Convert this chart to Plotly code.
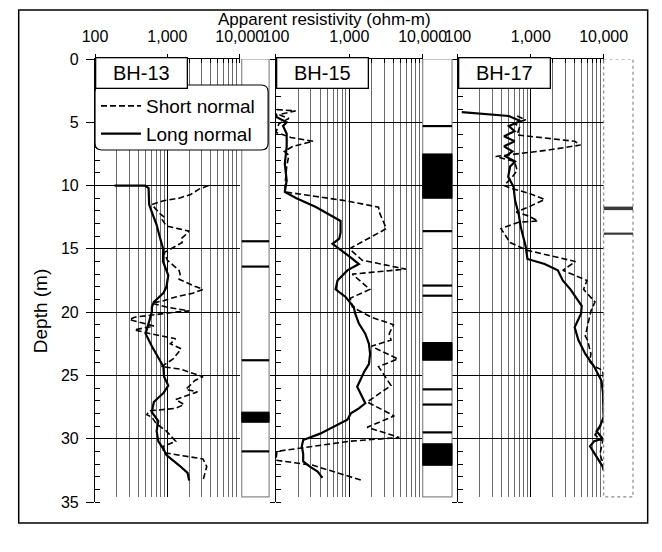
import plotly.graph_objects as go

# ---------------- data ----------------
bh13_long_depth = [10.0, 10.0, 10.0, 10.2, 11.5, 12.1, 13.1, 14.0, 15.0, 16.0, 17.1, 18.0, 18.5, 19.2, 19.6, 20.0,
                   20.8, 21.7, 22.7, 23.8, 24.3, 25.1, 25.8, 26.4, 27.1, 27.9, 28.6, 29.4, 30.2, 30.8, 31.3, 32.1,
                   32.7, 33.3]
bh13_long_res = [186, 300, 490, 550, 560, 610, 710, 780, 875, 870, 1030, 970, 880, 650, 610, 610,
                 560, 500, 610, 780, 880, 900, 1030, 880, 650, 610, 750, 710, 750, 880, 970, 1450,
                 1900, 2000]
bh13_short_depth = [10.0, 10.3, 10.7, 11.0, 11.2, 11.5, 12.2, 12.5, 12.7, 13.2, 13.4, 13.6, 14.0, 14.2, 14.5, 14.9,
                    15.3, 15.9, 16.7, 17.0, 17.4, 17.9, 18.2, 18.5, 18.8, 19.1, 19.3, 19.6, 19.9, 20.0, 20.4, 20.6,
                    20.9, 21.1, 21.4, 21.7, 22.1, 22.5, 22.9, 23.7, 24.3, 24.5, 25.1, 25.4, 26.1, 26.3, 26.9, 27.3,
                    27.6, 27.8, 28.1, 28.3, 28.8, 29.4, 30.2, 30.6, 31.1, 31.6, 32.2, 33.3]
bh13_short_res = [3700, 2700, 2100, 1450, 880, 610, 780, 910, 850, 970, 1400, 2000, 1700, 1550, 1600, 1200,
                  900, 1000, 1450, 1500, 1450, 2250, 3100, 2250, 1300, 880, 610, 970, 2000, 1300, 350, 300,
                  475, 650, 350, 580, 1300, 1100, 1550, 1200, 830, 1500, 3100, 2400, 1800, 2600, 1300, 1700,
                  1300, 560, 520, 610, 700, 970, 1300, 880, 880, 3100, 3500, 3100]

bh15_long_depth = [4.3, 4.6, 5.0, 5.3, 5.9, 6.9, 8.3, 9.6, 10.5, 11.0, 11.7, 12.3, 12.8, 13.7, 14.2, 14.6,
                   15.0, 15.6, 16.2, 16.7, 17.5, 18.2, 18.8, 19.6, 20.1, 20.9, 21.7, 22.2, 22.5, 23.3, 24.1, 24.7,
                   25.4, 25.9, 26.7, 27.2, 27.6, 28.0, 28.5, 29.0, 29.6, 30.1, 30.6, 31.2, 31.8, 32.2, 32.6, 33.1]
bh15_long_res = [100, 103, 140, 125, 140, 140, 132, 140, 132, 190, 350, 540, 760, 760, 730, 590,
                 740, 1000, 1350, 940, 690, 650, 890, 1150, 1200, 1350, 1650, 1800, 1850, 1920, 1850, 1600,
                 1400, 1280, 1500, 1650, 1350, 1050, 940, 650, 400, 235, 225, 235, 235, 290, 370, 430]
bh15_short_depth = [4.0, 4.1, 4.4, 4.7, 5.1, 5.4, 5.8, 6.2, 6.5, 6.9, 7.3, 7.6, 8.5, 9.5, 10.5, 10.8,
                    11.2, 11.7, 12.2, 13.4, 15.0, 15.9, 16.6, 17.0, 18.2, 18.9, 19.6, 20.4, 21.0, 21.7, 22.2, 22.7,
                    23.7, 24.3, 25.8, 27.1, 28.2, 29.1, 29.9, 30.2, 31.0, 31.7, 32.1, 33.3]
bh15_short_res = [103, 185, 110, 150, 110, 105, 100, 160, 320, 170, 130, 150, 140, 135, 132, 300,
                  890, 2500, 2600, 3200, 1000, 1500, 5900, 1100, 1900, 1030, 1100, 2000, 4000, 3500, 3700, 2000,
                  4600, 2500, 3700, 1750, 4100, 1750, 4800, 1000, 103, 100, 320, 1500]

bh17_long_depth = [4.2, 4.4, 4.5, 4.9, 5.3, 5.7, 6.1, 6.5, 6.9, 7.3, 7.7, 8.1, 8.5, 9.3, 10.1, 11.2,
                   12.2, 13.3, 14.8, 15.8, 16.2, 16.7, 17.5, 18.2, 18.8, 19.5, 20.1, 21.2, 22.2, 22.7, 23.3, 24.3,
                   25.4, 26.4, 27.5, 28.3, 29.0, 29.4, 30.0, 30.2, 30.6, 31.4, 32.2, 32.5]
bh17_long_res = [113, 300, 500, 720, 500, 600, 430, 600, 430, 560, 450, 610, 520, 490, 580, 610,
                 680, 730, 850, 900, 1550, 2350, 2750, 3500, 4100, 5000, 4900, 4000, 4500, 5000, 5600, 7400,
                 9300, 9800, 10000, 10000, 8900, 8000, 9700, 7400, 6500, 8000, 9700, 10000]
bh17_short_depth = [4.5, 4.8, 5.1, 5.4, 6.0, 6.5, 6.8, 7.2, 7.7, 8.1, 8.8, 9.3, 10.0, 10.2, 10.6, 11.1,
                    11.7, 12.1, 12.4, 12.8, 12.9, 13.4, 14.5, 15.1, 16.0, 16.7, 17.5, 18.2, 19.2, 19.9, 21.1, 21.9,
                    22.2, 23.3, 23.9, 24.3, 24.6, 25.4, 26.4, 27.5, 28.3, 28.9, 29.7, 30.2, 31.2, 32.1]
bh17_short_res = [650, 850, 600, 700, 650, 4000, 4800, 1700, 330, 600, 650, 560, 430, 520, 930, 1550,
                  930, 630, 930, 1260, 680, 390, 520, 870, 4100, 2750, 5900, 5300, 7600, 6700, 6000, 5600,
                  6000, 6700, 6400, 7600, 9700, 10000, 9800, 10000, 10000, 9300, 7600, 9700, 8900, 10000]

# lithology column marks (depth, m)
bh13_lines = [14.4, 16.4, 23.8, 31.0]
bh13_blocks = [(27.9, 28.7)]
bh15_lines = [5.3, 13.6, 17.9, 18.7, 26.1, 27.3, 29.5]
bh15_blocks = [(7.5, 11.0), (22.4, 23.8), (30.4, 32.1)]
bh17_lines = [11.8, 13.8]
bh17_blocks = []
column_bottom = 34.6
depth_max = 35

panel_names = ["BH-13", "BH-15", "BH-17"]
res_tick_vals = [100, 1000, 10000]
res_tick_text = ["100", "1,000", "10,000"]
depth_tick_vals = [0, 5, 10, 15, 20, 25, 30, 35]

# ---------------- layout geometry ----------------
W, H = 662, 552
ML, MR, MT, MB = 87, 25, 51, 58
PW = W - ML - MR
PH = H - MT - MB


def px(x):
    return (x - ML) / PW


def py(y):
    return (H - MB - y) / PH


def rounded_rect(x0, y0, x1, y1, r):
    # pixel coordinates -> paper-coordinate SVG path with rounded corners
    rx, ry = r / PW, r / PH
    a0, a1 = px(x0), px(x1)
    b0, b1 = py(y1), py(y0)  # bottom, top in paper
    return (f"M {a0+rx},{b1} L {a1-rx},{b1} Q {a1},{b1} {a1},{b1-ry} "
            f"L {a1},{b0+ry} Q {a1},{b0} {a1-rx},{b0} L {a0+rx},{b0} "
            f"Q {a0},{b0} {a0},{b0+ry} L {a0},{b1-ry} Q {a0},{b1} {a0+rx},{b1} Z")


panel_px = [(87, 235), (272, 422), (458, 607)]
panel_dom = [(px(a), px(b)) for a, b in panel_px]
col_dom = [(px(237), px(265)), (px(422), px(452)), (px(607), px(637))]

FONT = "Arial, 'Liberation Sans', sans-serif"

fig = go.Figure()

series = [
    (bh13_short_depth, bh13_short_res, bh13_long_depth, bh13_long_res),
    (bh15_short_depth, bh15_short_res, bh15_long_depth, bh15_long_res),
    (bh17_short_depth, bh17_short_res, bh17_long_depth, bh17_long_res),
]
for i, (sd, sr, ld, lr) in enumerate(series):
    xa = "x" if i == 0 else f"x{i+1}"
    ya = "y" if i == 0 else f"y{i+1}"
    fig.add_trace(go.Scatter(x=sr, y=sd, mode="lines", xaxis=xa, yaxis=ya,
                             name="Short normal", showlegend=(i == 0),
                             line=dict(color="black", width=1.6, dash="6px,3px")))
    fig.add_trace(go.Scatter(x=lr, y=ld, mode="lines", xaxis=xa, yaxis=ya,
                             name="Long normal", showlegend=(i == 0),
                             line=dict(color="black", width=2.2)))

layout_axes = {}
for i in range(3):
    xk = "xaxis" if i == 0 else f"xaxis{i+1}"
    yk = "yaxis" if i == 0 else f"yaxis{i+1}"
    ya = "y" if i == 0 else f"y{i+1}"
    xa = "x" if i == 0 else f"x{i+1}"
    layout_axes[xk] = dict(
        type="log", range=[2, 4], domain=list(panel_dom[i]), anchor=ya, side="top",
        tickmode="array", tickvals=res_tick_vals, ticktext=res_tick_text,
        ticks="outside", ticklen=4, tickcolor="black",
        showline=True, linecolor="black", linewidth=1.2,
        showgrid=True, gridcolor="black", gridwidth=1.2,
        tickfont=dict(family=FONT, size=16, color="black"),
        ticklabelstandoff=6,
        minor=dict(dtick="D1", ticks="inside", ticklen=4, tickcolor="black",
                   showgrid=True, gridcolor="#6a6a6a", gridwidth=1),
        zeroline=False, fixedrange=True,
    )
    ydict = dict(
        range=[depth_max, 0], domain=[0, 1], anchor=xa,
        tickmode="array", tickvals=depth_tick_vals,
        ticks="outside", ticklen=8, tickcolor="black",
        showline=True, linecolor="black", linewidth=1.2,
        showgrid=True, gridcolor="black", gridwidth=1,
        minor=dict(dtick=1, ticks="inside", ticklen=5, tickcolor="black", showgrid=False),
        tickfont=dict(family=FONT, size=16, color="black"),
        ticklabelstandoff=4,
        zeroline=False, fixedrange=True,
    )
    if i > 0:
        ydict["matches"] = "y"
        ydict["showticklabels"] = False
        ydict["ticklen"] = 5
    layout_axes[yk] = ydict

shapes = []
# outer frame
shapes.append(dict(type="rect", xref="paper", yref="paper",
                   x0=px(9), x1=px(652), y0=py(515), y1=py(2),
                   line=dict(color="black", width=1.5), fillcolor="rgba(0,0,0,0)", layer="below"))

# hide grid below the end of the logs (panels stop just above 35 m)
for a, b in panel_px:
    shapes.append(dict(type="rect", xref="paper", yref="y", x0=px(a + 1), x1=px(b + 1.5),
                       y0=column_bottom, y1=depth_max + 0.3, fillcolor="white",
                       line=dict(width=0), layer="above"))

col_lines = [bh13_lines, bh15_lines, bh17_lines]
col_blocks = [bh13_blocks, bh15_blocks, bh17_blocks]
for i in range(3):
    x0, x1 = col_dom[i]
    shapes.append(dict(type="rect", xref="paper", yref="y", x0=x0, x1=x1, y0=0, y1=column_bottom,
                       fillcolor="white",
                       line=dict(color="#8a8a8a", width=1.2, dash="dot" if i == 2 else "solid"),
                       layer="above"))
    for d in col_lines[i]:
        thick = (i == 2 and d == bh17_lines[0])
        shapes.append(dict(type="line", xref="paper", yref="y", x0=x0, x1=x1, y0=d, y1=d,
                           line=dict(color="#3a3a3a" if i == 2 else "black",
                                     width=3.5 if thick else 2.2), layer="above"))
    for (a, b) in col_blocks[i]:
        shapes.append(dict(type="rect", xref="paper", yref="y", x0=x0, x1=x1, y0=a, y1=b,
                           fillcolor="black", line=dict(color="black", width=1), layer="above"))

# rounded legend box
shapes.append(dict(type="path", xref="paper", yref="paper", path=rounded_rect(87, 77, 264, 142, 7),
                   fillcolor="white", line=dict(color="black", width=1.2), layer="above"))

annotations = [
    dict(text="Apparent resistivity (ohm-m)", xref="paper", yref="paper",
         x=px(322), y=py(11), showarrow=False, xanchor="center", yanchor="middle",
         font=dict(family=FONT, size=17, color="black")),
    dict(text="Depth (m)", xref="paper", yref="paper", x=px(31), y=py(303),
         showarrow=False, textangle=-90, xanchor="center", yanchor="middle",
         font=dict(family=FONT, size=19, color="black")),
]
for i, name in enumerate(panel_names):
    annotations.append(dict(text=name, xref="paper", yref="paper", x=panel_dom[i][0], y=py(49),
                            xanchor="left", yanchor="top", showarrow=False,
                            width=88, height=27, align="center", valign="middle",
                            bgcolor="white", bordercolor="black", borderwidth=1.3, borderpad=1,
                            font=dict(family=FONT, size=20, color="black")))

fig.update_layout(
    width=W, height=H,
    margin=dict(l=ML, r=MR, t=MT, b=MB, pad=0),
    paper_bgcolor="white", plot_bgcolor="white",
    font=dict(family=FONT, color="black"),
    shapes=shapes, annotations=annotations,
    legend=dict(x=px(88), y=py(79), xanchor="left", yanchor="top",
                bgcolor="rgba(0,0,0,0)", borderwidth=0,
                font=dict(family=FONT, size=19, color="black"),
                tracegroupgap=0, itemwidth=40),
    **layout_axes,
)

fig.write_html("out.html", config={"displayModeBar": False})
